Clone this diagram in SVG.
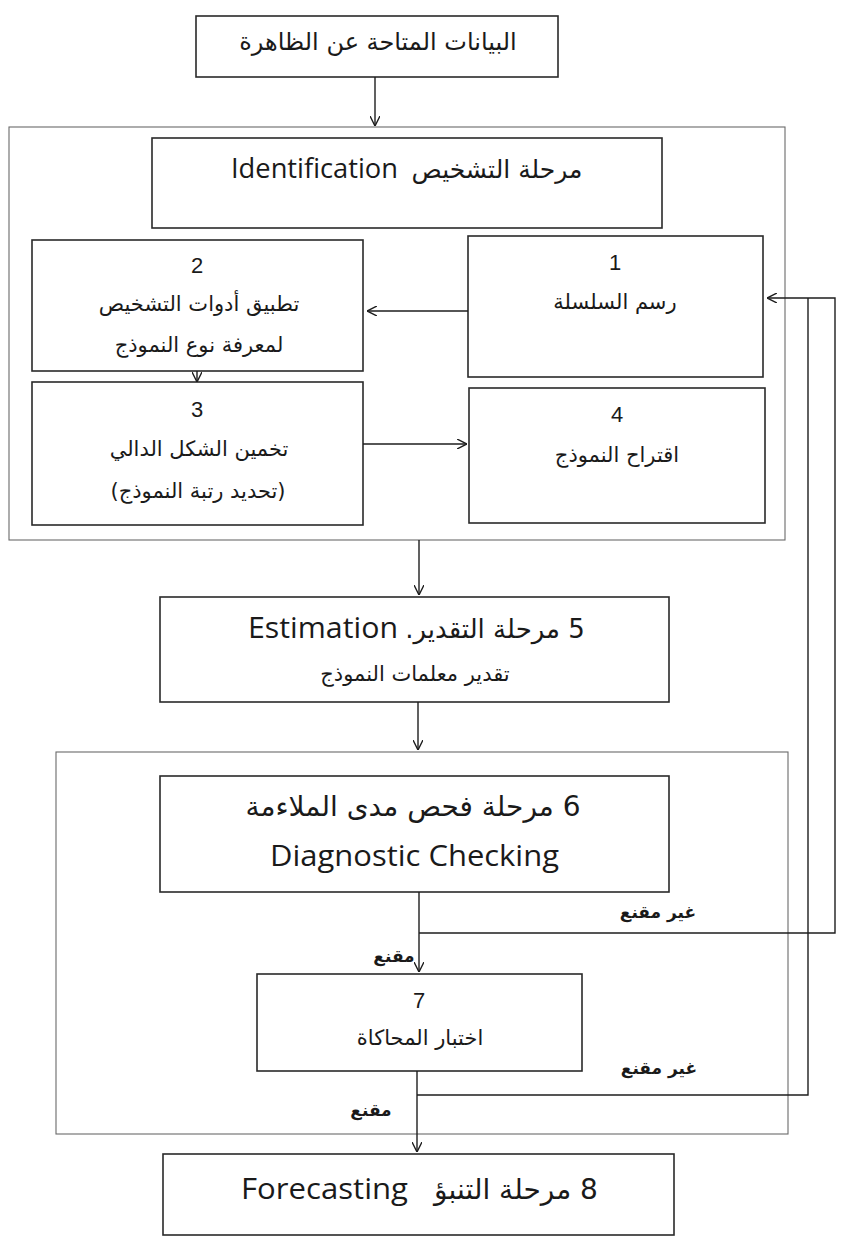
<svg xmlns="http://www.w3.org/2000/svg" width="848" height="1236" viewBox="0 0 848 1236">
<defs>
<style>
.box{fill:none;stroke:#2a2a2a;stroke-width:1.6}
.cont{fill:none;stroke:#6a6a6a;stroke-width:1.1}
.conn{fill:none;stroke:#1e1e1e;stroke-width:1.4}
.ar{font-family:"DejaVu Sans",sans-serif;fill:#1a1a1a;text-anchor:middle;direction:rtl}
.en{font-family:"Open Sans","Liberation Sans",sans-serif;fill:#1a1a1a}
.num{font-family:"Liberation Sans",Arial,sans-serif;fill:#1a1a1a;text-anchor:middle;font-size:22px}
.lbl{font-family:"DejaVu Sans",sans-serif;fill:#1a1a1a;text-anchor:middle;direction:rtl;font-size:17px;font-weight:bold}
</style>
<marker id="arr" viewBox="0 0 10 10" refX="10" refY="5" markerWidth="10" markerHeight="10" markerUnits="userSpaceOnUse" orient="auto">
<path d="M0,0 L10,5 L0,10" fill="none" stroke="#1e1e1e" stroke-width="1.4"/>
</marker>
</defs>
<rect width="848" height="1236" fill="#ffffff"/>

<g id="containers">
<rect class="cont" x="9" y="127" width="776" height="413"/>
<rect class="cont" x="56" y="752" width="732" height="382"/>
</g>

<g id="n0">
<rect class="box" x="196" y="16" width="362" height="61"/>
<text class="ar" x="378" y="50" font-size="24">البيانات المتاحة عن الظاهرة</text>
</g>

<g id="identification">
<rect class="box" x="152" y="138" width="510" height="90"/>
<text class="en" x="231" y="178" font-size="27" textLength="167" lengthAdjust="spacingAndGlyphs">Identification</text>
<text class="ar" x="497" y="178" font-size="25">مرحلة التشخيص</text>
</g>

<g id="n1">
<rect class="box" x="468" y="236" width="295" height="141"/>
<text class="num" x="615" y="270">1</text>
<text class="ar" x="615" y="309" font-size="21">رسم السلسلة</text>
</g>

<g id="n2">
<rect class="box" x="32" y="240" width="331" height="131"/>
<text class="num" x="197" y="273">2</text>
<text class="ar" x="199" y="311" font-size="21">تطبيق أدوات التشخيص</text>
<text class="ar" x="199" y="352" font-size="21">لمعرفة نوع النموذج</text>
</g>

<g id="n3">
<rect class="box" x="32" y="382" width="331" height="143"/>
<text class="num" x="197" y="417">3</text>
<text class="ar" x="199" y="456" font-size="21">تخمين الشكل الدالي</text>
<text class="ar" x="198" y="498" font-size="21">(تحديد رتبة النموذج)</text>
</g>

<g id="n4">
<rect class="box" x="469" y="388" width="296" height="135"/>
<text class="num" x="617" y="422">4</text>
<text class="ar" x="617" y="462" font-size="21">اقتراح النموذج</text>
</g>

<g id="n5">
<rect class="box" x="160" y="597" width="509" height="105"/>
<text class="en" x="248" y="638" font-size="30" textLength="150" lengthAdjust="spacingAndGlyphs">Estimation</text>
<text class="ar" x="495" y="638" font-size="26">5 مرحلة التقدير.</text>
<text class="ar" x="415" y="681" font-size="21">تقدير معلمات النموذج</text>
</g>

<g id="n6">
<rect class="box" x="160" y="776" width="509" height="116"/>
<text class="ar" x="413" y="816" font-size="28">6 مرحلة فحص مدى الملاءمة</text>
<text class="en" x="270" y="866" font-size="30" textLength="289" lengthAdjust="spacingAndGlyphs">Diagnostic Checking</text>
</g>

<g id="n7">
<rect class="box" x="257" y="974" width="325" height="97"/>
<text class="num" x="419" y="1008">7</text>
<text class="ar" x="420" y="1045" font-size="21">اختبار المحاكاة</text>
</g>

<g id="n8">
<rect class="box" x="163" y="1154" width="511" height="81"/>
<text class="en" x="241" y="1199" font-size="30" textLength="167" lengthAdjust="spacingAndGlyphs">Forecasting</text>
<text class="ar" x="516" y="1199" font-size="28">8 مرحلة التنبؤ</text>
</g>

<g id="connectors">
<line class="conn" x1="375" y1="77" x2="375" y2="126" marker-end="url(#arr)"/>
<line class="conn" x1="468" y1="311" x2="367" y2="311" marker-end="url(#arr)"/>
<line class="conn" x1="197" y1="371" x2="197" y2="382" marker-end="url(#arr)"/>
<line class="conn" x1="363" y1="444" x2="467" y2="444" marker-end="url(#arr)"/>
<line class="conn" x1="419" y1="540" x2="419" y2="595" marker-end="url(#arr)"/>
<line class="conn" x1="418" y1="702" x2="418" y2="750" marker-end="url(#arr)"/>
<line class="conn" x1="419" y1="892" x2="419" y2="972" marker-end="url(#arr)"/>
<polyline class="conn" points="419,933 835,933 835,298 767,298" marker-end="url(#arr)"/>
<polyline class="conn" points="417,1095 808,1095 808,298"/>
<line class="conn" x1="417" y1="1071" x2="417" y2="1152" marker-end="url(#arr)"/>
<text class="lbl" x="658" y="918">غير مقنع</text>
<text class="lbl" x="394" y="962">مقنع</text>
<text class="lbl" x="659" y="1074">غير مقنع</text>
<text class="lbl" x="371" y="1116">مقنع</text>
</g>
</svg>
